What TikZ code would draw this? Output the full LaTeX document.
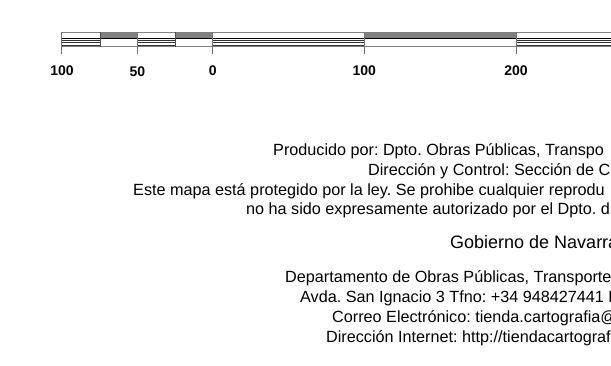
\documentclass[tikz,border=0pt]{standalone}
\usepackage{fontspec}
\setmainfont{Liberation Sans}
\frenchspacing
\begin{document}
\begin{tikzpicture}[x=1pt,y=-1pt,
  frame/.style={draw=black!50,line width=0.9pt},
  tick/.style={draw=black!55,line width=1pt},
  sep/.style={draw=black!70,line width=0.8pt},
  hatchline/.style={draw=black!80,line width=0.6pt},
  midline/.style={draw=black,line width=0.8pt},
  grayfill/.style={fill=black!50,draw=none},
  lbl/.style={font=\fontsize{14}{16}\selectfont\bfseries,inner sep=0pt},
  body/.style={font=\fontsize{16.2}{18}\selectfont,inner sep=0pt,anchor=base west},
  big/.style={font=\fontsize{18}{21}\selectfont,inner sep=0pt,anchor=base west}]
\useasboundingbox (0,0) rectangle (611,365);
\clip (0,0) rectangle (611,365);
% gray (top) fills of type B segments
\fill[grayfill] (100,32) rectangle (137.3,37.5);
\fill[grayfill] (175,32) rectangle (212.7,37.5);
\fill[grayfill] (364.3,32) rectangle (516,37.5);
% hatch lines in type A segments
\foreach \a/\b in {61.7/100,137.3/175,212.7/364.3,516/615}{
  \foreach \y in {40.6,42.7,44.8}{
    \draw[hatchline] (\a,\y) -- (\b,\y);
  }
}
% mid line and frame
\draw[midline] (61.7,38.6) -- (615,38.6);
\draw[frame] (61.7,32) -- (615,32);
\draw[frame] (61.7,46.8) -- (615,46.8);
% segment separators
\draw[sep] (100,32) -- (100,46.8);
\draw[sep] (175,32) -- (175,46.8);
% ticks
\foreach \x in {61.7,137.3,212.7,364.3,516}{
  \draw[tick] (\x,32) -- (\x,53.5);
}
% labels
\node[lbl] (l100a) at (62,70.5) {100};
\node[lbl] (l50) at (137.3,72) {50};
\node[lbl] (l0) at (212.7,70.5) {0};
\node[lbl] (l100) at (364.3,70.5) {100};
\node[lbl] (l200) at (516,70.5) {200};
% text
\node[body] (t1) at (273,155) {Producido por: Dpto. Obras Públicas, Transpo};
\node[body] (t2) at (368,175) {Dirección y Control: Sección de C};
\node[body] (t3) at (133,195) {Este mapa está protegido por la ley. Se prohibe cualquier reprodu};
\node[body] (t4) at (246,214.5) {no ha sido expresamente autorizado por el Dpto. d};
\node[big] (t5) at (450,248.5) {Gobierno de Navarra};
\node[body] (t6) at (285,282) {Departamento de Obras Públicas, Transporte};
\node[body] (t7) at (300,302.5) {Avda. San Ignacio 3 Tfno: +34 948427441 F};
\node[body] (t8) at (332,322.5) {Correo Electrónico: tienda.cartografia@};
\node[body] (t9) at (326,342.5) {Dirección Internet: http://tiendacartograf};
\end{tikzpicture}
\end{document}
